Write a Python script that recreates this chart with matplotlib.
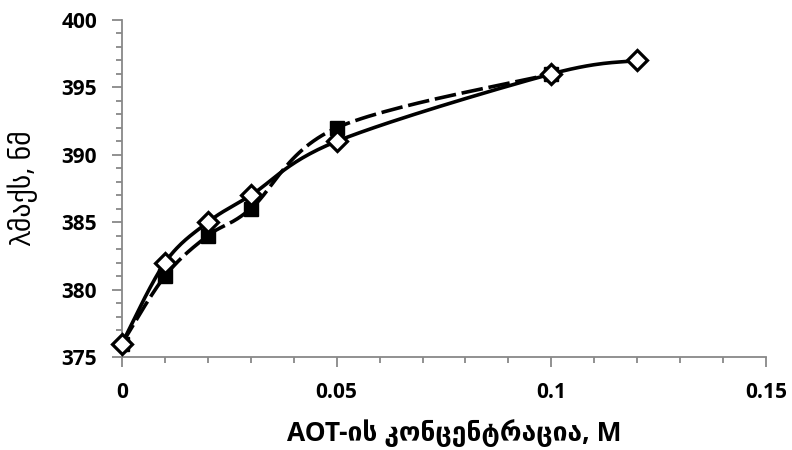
import matplotlib
matplotlib.use("Agg")
import matplotlib.pyplot as plt
import numpy as np

# data
conc_sq = [0, 0.01, 0.02, 0.03, 0.05, 0.1]
lam_sq = [376, 381, 384, 386, 392, 396]

conc_di = [0, 0.01, 0.02, 0.03, 0.05, 0.1, 0.12]
lam_di = [376, 382, 385, 387, 391, 396, 397]

x_ticks = [0, 0.05, 0.1, 0.15]
x_tick_labels = ["0", "0.05", "0.1", "0.15"]
y_ticks = [375, 380, 385, 390, 395, 400]


def smooth(x, y, n=30):
    # Catmull-Rom style bezier, like Excel's smoothed line
    x = np.asarray(x, float)
    y = np.asarray(y, float)
    px = np.concatenate([[x[0]], x, [x[-1]]])
    py = np.concatenate([[y[0]], y, [y[-1]]])
    xs, ys = [], []
    t = np.linspace(0, 1, n)
    for i in range(1, len(px) - 2):
        p0 = np.array([px[i], py[i]])
        p3 = np.array([px[i + 1], py[i + 1]])
        p1 = p0 + (np.array([px[i + 1], py[i + 1]]) - np.array([px[i - 1], py[i - 1]])) / 6
        p2 = p3 - (np.array([px[i + 2], py[i + 2]]) - np.array([px[i], py[i]])) / 6
        b = ((1 - t) ** 3)[:, None] * p0 + (3 * (1 - t) ** 2 * t)[:, None] * p1 \
            + (3 * (1 - t) * t ** 2)[:, None] * p2 + (t ** 3)[:, None] * p3
        xs.extend(b[:, 0])
        ys.extend(b[:, 1])
    return xs, ys


fam = ["Open Sans", "DejaVu Sans"]

fig = plt.figure(figsize=(7.92, 4.5), dpi=100)
ax = fig.add_axes([122 / 792, 1 - 357 / 450, (766 - 122) / 792, (357 - 20) / 450])

sx, sy = smooth(conc_sq, lam_sq)
ax.plot(sx, sy, color="black", lw=2.6, dashes=(6, 1.6), zorder=2)
ax.plot(conc_sq, lam_sq, ls="none", marker="s", ms=10.5, mfc="black", mec="black", zorder=3)

dx, dy = smooth(conc_di, lam_di)
ax.plot(dx, dy, color="black", lw=2.6, zorder=4)
ax.plot(conc_di, lam_di, ls="none", marker="D", ms=10, mfc="white", mec="black", mew=2.3, zorder=5,
        clip_on=False)

ax.set_xlim(0, 0.15)
ax.set_ylim(375, 400)
ax.set_xticks(x_ticks)
ax.set_xticklabels(x_tick_labels)
ax.set_yticks(y_ticks)
ax.set_xticks(np.arange(0, 0.1501, 0.01), minor=True)
ax.set_yticks(np.arange(375, 400.1, 1), minor=True)

for s in ["top", "right"]:
    ax.spines[s].set_visible(False)
for s in ["left", "bottom"]:
    ax.spines[s].set_color("#888888")
    ax.spines[s].set_linewidth(1.3)

ax.tick_params(which="major", direction="out", length=7, width=1.3, color="#888888")
ax.tick_params(which="minor", direction="out", length=4, width=1.3, color="#888888")
ax.tick_params(axis="x", which="major", pad=11)
ax.tick_params(axis="y", which="major", pad=11)

for lab in ax.get_xticklabels() + ax.get_yticklabels():
    lab.set_family(fam)
    lab.set_fontweight("bold")
    lab.set_fontsize(15)

ax.set_xlabel("AOT-ის კონცენტრაცია, M", family=fam, fontweight="bold", fontsize=19)
ax.xaxis.set_label_coords(0.516, -0.185)
ax.set_ylabel("λმაქს, ნმ", family=fam, fontsize=20)
ax.yaxis.set_label_coords(-0.13, 0.5)

fig.savefig("out.png", dpi=100)
